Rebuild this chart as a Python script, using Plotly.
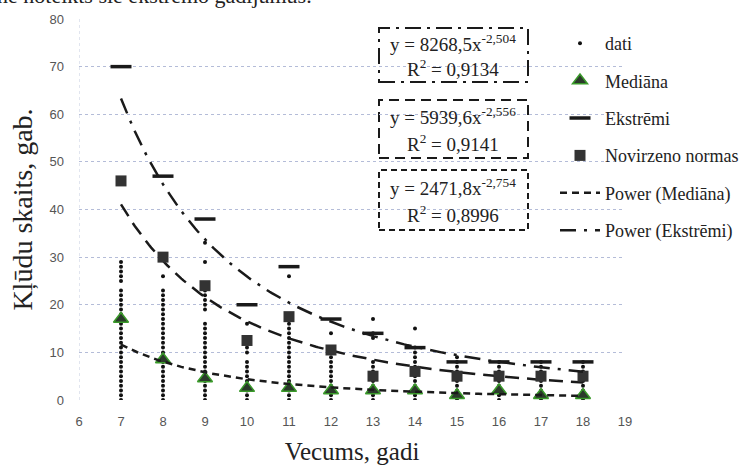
import numpy as np
import plotly.graph_objects as go

# ---------------- data ----------------
ages = [7, 8, 9, 10, 11, 12, 13, 14, 15, 16, 17, 18]
mediana = [17, 8.5, 4.5, 2.5, 2.5, 2, 2, 2, 1, 2, 1, 1]
ekstremi = [70, 47, 38, 20, 28, 17, 14, 11, 8, 8, 8, 8]
novirzeno = [46, 30, 24, 12.5, 17.5, 10.5, 5, 6, 5, 5, 5, 5]

# individual observations (dati) per age
dati_7 = [v for v in range(0, 30) if v != 24]
dati_8 = list(range(0, 24)) + [26]
dati_9 = list(range(0, 17)) + list(range(19, 24)) + [29, 33]
dati_10 = list(range(0, 9)) + [10, 11, 16]
dati_11 = list(range(0, 18)) + [26]
dati_12 = list(range(0, 12)) + [14]
dati_13 = list(range(0, 9)) + [13, 14, 17]
dati_14 = list(range(0, 12)) + [15]
dati_15 = list(range(0, 10))
dati_16 = list(range(0, 9))
dati_17 = list(range(0, 9))
dati_18 = list(range(0, 9))
dati_lists = [dati_7, dati_8, dati_9, dati_10, dati_11, dati_12,
              dati_13, dati_14, dati_15, dati_16, dati_17, dati_18]

# power trendlines y = a * x^b (coefficients shown on chart)
fit_ekstremi = [8268.5, -2.504]
fit_novirzeno = [5939.6, -2.556]
fit_mediana = [2471.8, -2.754]

eq_ekstremi = ["y = 8268,5x<sup>-2,504</sup>", "R<sup>2</sup> = 0,9134"]
eq_novirzeno = ["y = 5939,6x<sup>-2,556</sup>", "R<sup>2</sup> = 0,9141"]
eq_mediana = ["y = 2471,8x<sup>-2,754</sup>", "R<sup>2</sup> = 0,8996"]

x_ticks = list(range(6, 20))
y_ticks = list(range(0, 90, 10))

# ---------------- figure ----------------
dati_x = [a for a, vals in zip(ages, dati_lists) for _ in vals]
dati_y = [v for vals in dati_lists for v in vals]

xs = np.linspace(ages[0], ages[-1], 200)
def power(c):
    return c[0] * xs ** c[1]

serif = "Liberation Serif, Times New Roman, serif"
sans = "Liberation Sans, Arial, sans-serif"
fig = go.Figure()

fig.add_trace(go.Scatter(x=dati_x, y=dati_y, mode="markers", name="dati",
                         marker=dict(size=4, color="#111111"),
                         legendgroup="a"))
fig.add_trace(go.Scatter(x=xs, y=power(fit_novirzeno), mode="lines",
                         showlegend=False,
                         line=dict(color="#1a1a1a", width=2.5, dash="14px,8px")))
fig.add_trace(go.Scatter(x=ages, y=mediana, mode="markers", name="Mediāna",
                         marker=dict(symbol="triangle-up", size=13, color="#2b3a2b",
                                     line=dict(color="#3a9a2a", width=1.5)),
                         legendgroup="b"))
fig.add_trace(go.Scatter(x=ages, y=ekstremi, mode="markers", name="Ekstrēmi",
                         marker=dict(symbol="line-ew", size=15,
                                     line=dict(color="#1a1a1a", width=3.5)),
                         legendgroup="c"))
fig.add_trace(go.Scatter(x=ages, y=novirzeno, mode="markers", name="Novirzeno normas",
                         marker=dict(symbol="square", size=11, color="#333333"),
                         legendgroup="d"))
fig.add_trace(go.Scatter(x=xs, y=power(fit_mediana), mode="lines",
                         name="Power (Mediāna)",
                         line=dict(color="#1a1a1a", width=2.5, dash="7px,5px"),
                         legendgroup="e"))
fig.add_trace(go.Scatter(x=xs, y=power(fit_ekstremi), mode="lines",
                         name="Power (Ekstrēmi)",
                         line=dict(color="#1a1a1a", width=2.5, dash="16px,8px,3px,8px"),
                         legendgroup="f"))

W, H = 739, 466
L, R, T, B = 79, 114, 19, 66
pw, ph = W - L - R, H - T - B

def px2x(p):
    return (p - L) / pw

def px2y(p):
    return (H - B - p) / ph

shapes = []
# white area behind legend hiding gridlines
shapes.append(dict(type="rect", xref="paper", yref="paper",
                   x0=px2x(533), x1=px2x(760), y0=px2y(268), y1=px2y(19),
                   fillcolor="white", line=dict(width=0), layer="between"))
# left dotted axis line
shapes.append(dict(type="line", xref="x", yref="paper", x0=6, x1=6, y0=0, y1=1,
                   line=dict(color="#c4cce0", width=1, dash="dot"), layer="below"))

boxes = [
    (eq_ekstremi, 28, 82, "16px,6px,3px,6px"),
    (eq_novirzeno, 100, 158, "10px,6px"),
    (eq_mediana, 170, 230, "6px,4px"),
]
annotations = []
for lines, top, bot, dash in boxes:
    shapes.append(dict(type="rect", xref="paper", yref="paper",
                       x0=px2x(379), x1=px2x(528), y0=px2y(bot), y1=px2y(top),
                       fillcolor="white", line=dict(color="#1a1a1a", width=2, dash=dash),
                       layer="between"))
    h = bot - top
    for frac, txt in ((0.28, lines[0]), (0.74, lines[1])):
        annotations.append(dict(xref="paper", yref="paper", x=px2x(453),
                                xanchor="center", yanchor="middle",
                                y=px2y(top + h * frac), text=txt, showarrow=False,
                                font=dict(family=serif, size=19, color="#222222")))

# partial document text cut off at top
annotations.append(dict(xref="paper", yref="paper", x=px2x(-5), xanchor="left",
                        y=px2y(-4), yanchor="middle",
                        text="ne noteikts šie ekstrēmo gadījumus.", showarrow=False,
                        font=dict(family=serif, size=22, color="#222222")))

fig.update_layout(
    width=W, height=H,
    font=dict(family=serif, color="#222222"),
    margin=dict(l=L, r=R, t=T, b=B, pad=0, autoexpand=False),
    paper_bgcolor="white", plot_bgcolor="white",
    shapes=shapes, annotations=annotations,
    showlegend=True,
    legend=dict(xref="container", yref="container", x=555 / W, y=1 - 25 / H,
                xanchor="left", yanchor="top",
                bgcolor="rgba(0,0,0,0)", font=dict(family=serif, size=18, color="#222222"),
                traceorder="grouped", tracegroupgap=11, itemwidth=40),
    xaxis=dict(range=[6, 19], tickvals=x_ticks, showgrid=False, zeroline=False,
               showline=False, ticks="", automargin=False, ticklabelstandoff=12,
               tickfont=dict(family=sans, size=13, color="#555555"),
               title=dict(text="Vecums, gadi", standoff=14,
                          font=dict(family=serif, size=25, color="#222222"))),
    yaxis=dict(range=[0, 80], tickvals=y_ticks, showgrid=True, gridcolor="#b4bcd8",
               griddash="dot", gridwidth=1, zeroline=False, showline=False,
               ticks="", ticklabelstandoff=14, automargin=False,
               tickfont=dict(family=sans, size=13, color="#555555"),
               title=dict(text="Kļūdu skaits, gab.", standoff=8,
                          font=dict(family=serif, size=28, color="#222222"))),
)

fig.write_html("out.html", config={"displayModeBar": False},
               post_script="document.body.style.margin='0';"
                           "document.body.style.overflow='hidden';")
